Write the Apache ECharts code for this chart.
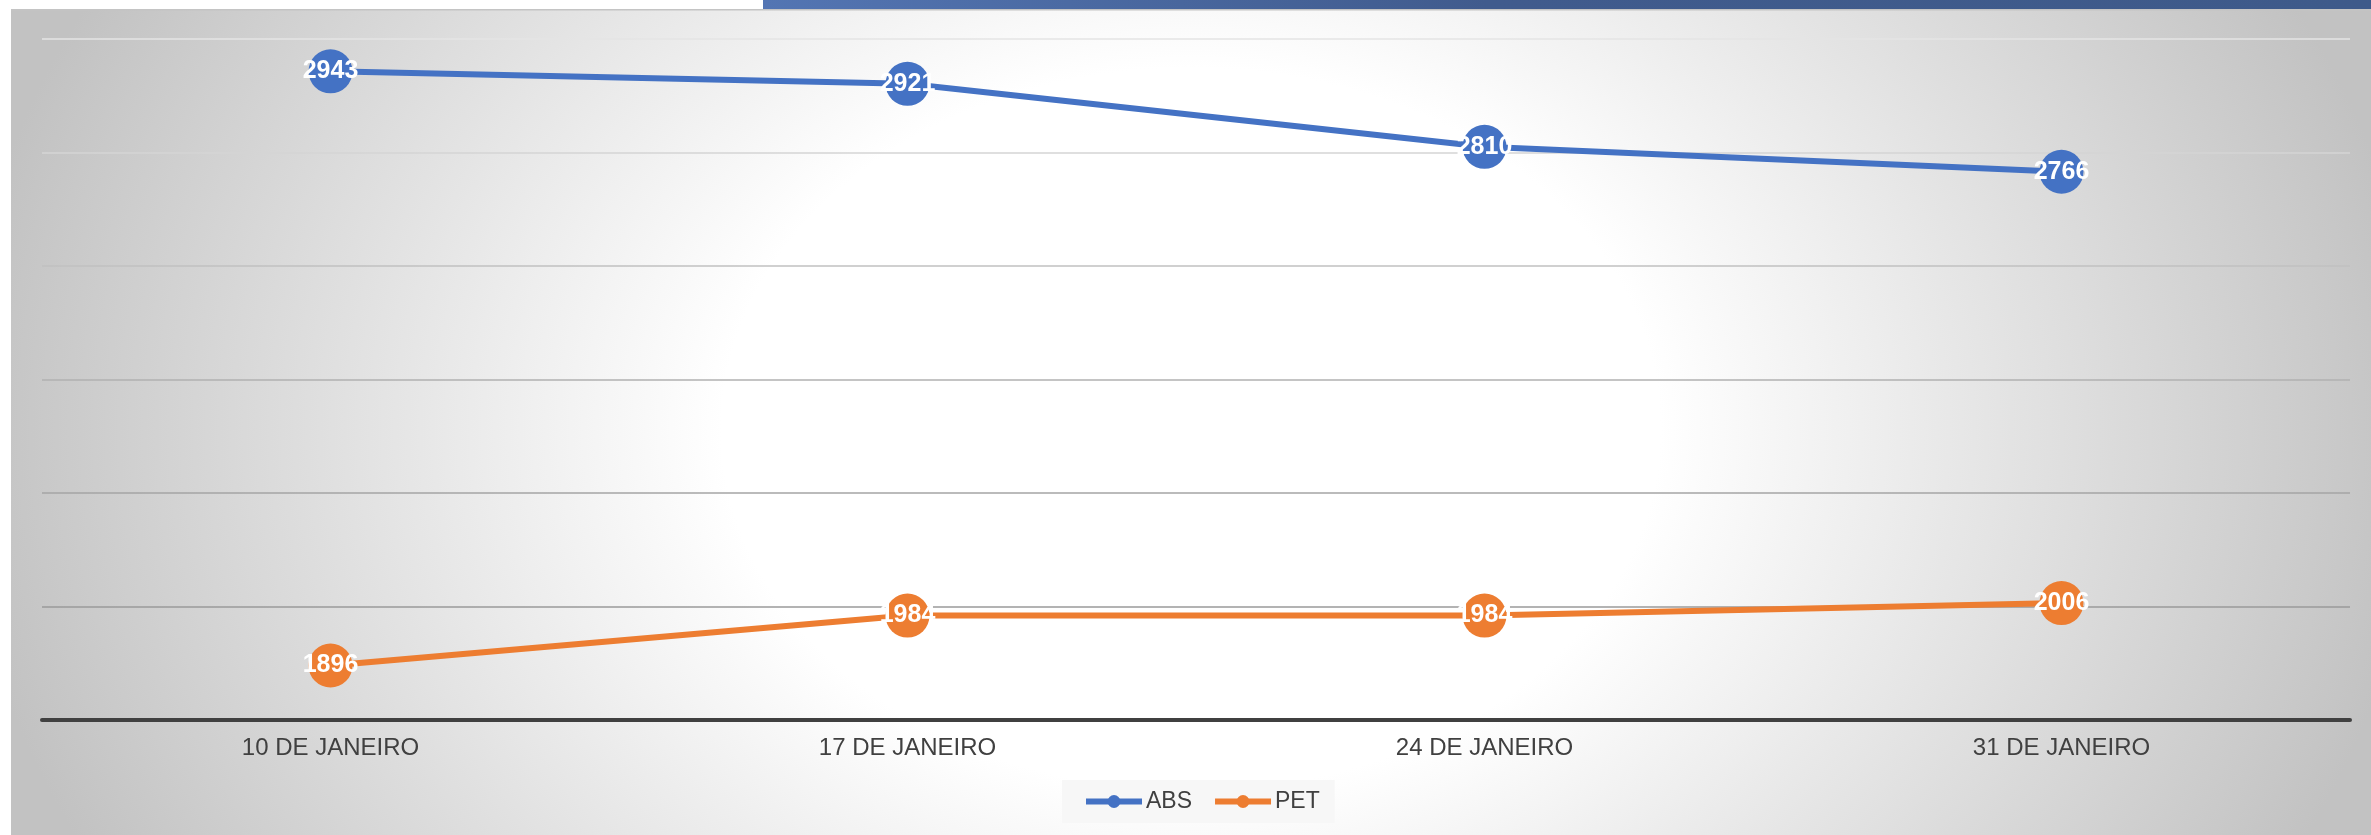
<!DOCTYPE html>
<html>
<head>
<meta charset="utf-8">
<script src="https://cdn.jsdelivr.net/npm/echarts@6/dist/echarts.min.js"></script>
<style>
html,body{margin:0;padding:0;background:#fff;}
#chart{width:2371px;height:835px;}
</style>
</head>
<body>
<div id="chart"></div>
<script>
const categories = ['10 DE JANEIRO', '17 DE JANEIRO', '24 DE JANEIRO', '31 DE JANEIRO'];
const absValues = [2943, 2921, 2810, 2766];
const petValues = [1896, 1984, 1984, 2006];
const seriesNames = ['ABS', 'PET'];
const yMin = 1800, yMax = 3000, yInterval = 200;

const chart = echarts.init(document.getElementById('chart'), null, {renderer: 'canvas'});
const W = 2360, H = 826, sx = 1.3;
const font = '"Liberation Sans", Arial, sans-serif';

const option = {
  animation: false,
  backgroundColor: '#ffffff',
  graphic: [
    {
      type: 'rect', z: -100, silent: true,
      x: 11, y: 9, scaleX: sx,
      shape: {x: 0, y: 0, width: W / sx, height: H},
      style: {
        fill: new echarts.graphic.RadialGradient(W / sx / 2, 420, 950, [
          {offset: 0, color: '#ffffff'},
          {offset: 0.38, color: '#ffffff'},
          {offset: 1, color: '#c2c2c2'}
        ], true)
      }
    },
    {
      type: 'rect', z: -99, silent: true,
      shape: {x: 11, y: 9, width: W, height: 1.5},
      style: {fill: '#c4c4c4'}
    },
    {
      type: 'rect', z: -98, silent: true,
      shape: {x: 763, y: 0, width: 2371 - 763, height: 9},
      style: {
        fill: new echarts.graphic.LinearGradient(0, 0, 1, 0, [
          {offset: 0, color: '#5375b3'},
          {offset: 0.45, color: '#405b8d'},
          {offset: 1, color: '#3e5a8a'}
        ])
      }
    }
  ],
  grid: {left: 42, right: 21, top: 39, bottom: 115, containLabel: false},
  legend: {
    data: seriesNames,
    left: 1062, top: 780,
    backgroundColor: '#f7f7f7',
    padding: [10, 15, 10, 21],
    itemWidth: 56, itemHeight: 16, itemGap: 20,
    lineStyle: {width: 6},
    textStyle: {color: '#404040', fontSize: 23, fontFamily: font, padding: [0, 0, 0, -1]}
  },
  xAxis: {
    type: 'category',
    data: categories,
    boundaryGap: true,
    axisLine: {show: true, lineStyle: {color: '#404040', width: 4}},
    axisTick: {show: false},
    axisLabel: {color: '#404040', fontSize: 24, fontFamily: font, margin: 16}
  },
  yAxis: {
    type: 'value',
    min: yMin, max: yMax, interval: yInterval,
    axisLine: {show: false},
    axisTick: {show: false},
    axisLabel: {show: false},
    splitLine: {
      show: true,
      lineStyle: {
        width: 1.5,
        color: ['#404040', '#9a9a9a', '#a4a4a4', '#b0b0b0', '#c0c0c0', '#d4d4d4', '#e4e4e4']
      }
    }
  },
  series: [
    {
      name: seriesNames[0], type: 'line', data: absValues,
      symbol: 'circle', symbolSize: 44,
      color: '#4472C4',
      lineStyle: {width: 6, color: '#4472C4'},
      itemStyle: {color: '#4472C4'},
      label: {show: true, position: 'inside', color: '#ffffff', fontWeight: 'bold', fontSize: 25, fontFamily: font},
      z: 3
    },
    {
      name: seriesNames[1], type: 'line', data: petValues,
      symbol: 'circle', symbolSize: 44,
      color: '#ED7D31',
      lineStyle: {width: 6, color: '#ED7D31'},
      itemStyle: {color: '#ED7D31'},
      label: {show: true, position: 'inside', color: '#ffffff', fontWeight: 'bold', fontSize: 25, fontFamily: font},
      z: 3
    }
  ]
};
chart.setOption(option);
</script>
</body>
</html>
